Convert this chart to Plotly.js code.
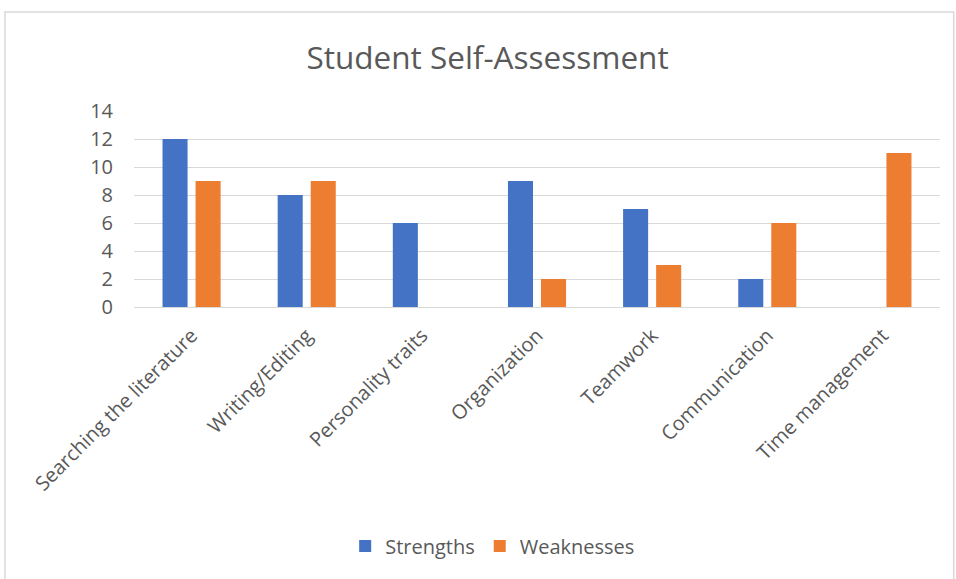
<!DOCTYPE html>
<html><head><meta charset="utf-8">
<script src="https://cdn.plot.ly/plotly-3.0.1.min.js"></script>
<style>html,body{margin:0;padding:0;background:#fff}#c{width:956px;height:579px}</style>
</head><body><div id="c"></div>
<script>
const categories = ["Searching the literature","Writing/Editing","Personality traits","Organization","Teamwork","Communication","Time management"];
const strengths = [12, 8, 6, 9, 7, 2, 0];
const weaknesses = [9, 9, 0, 2, 3, 6, 11];
const yTicks = [0, 2, 4, 6, 8, 10, 12, 14];

const fontFam = "'Open Sans', 'Noto Sans', sans-serif";
const data = [
  {type:'bar', name:'Strengths', x:categories, y:strengths, marker:{color:'#4472C4'}},
  {type:'bar', name:'Weaknesses', x:categories, y:weaknesses, marker:{color:'#ED7D31'}}
];
const layout = {
  width:956, height:579,
  margin:{l:134, r:16, t:111, b:272},
  paper_bgcolor:'#fff', plot_bgcolor:'#fff',
  font:{family:fontFam, color:'#595959', size:20},
  title:{text:'Student Self-Assessment', x:0.51, xref:'container', xanchor:'center', y:0.9, yref:'container', yanchor:'middle', font:{size:31.5, color:'#595959', family:fontFam}},
  barmode:'group', bargap:0.426, bargroupgap:0.242,
  xaxis:{tickangle:-45, showgrid:false, showline:true, linecolor:'#d9d9d9', linewidth:1, ticks:'', ticklabelstandoff:8, tickfont:{size:20, color:'#595959', family:fontFam}},
  yaxis:{range:[0,14], tickvals:yTicks, showgrid:true, gridcolor:'#d9d9d9', gridwidth:1, zeroline:false, showline:false, ticks:'', ticklabelstandoff:20, tickfont:{size:20, color:'#595959', family:fontFam}},
  legend:{orientation:'h', x:0.445, xanchor:'center', y:-1.22, yanchor:'middle', itemwidth:30, font:{size:20, color:'#595959', family:fontFam}},
  shapes:[{type:'rect', xref:'paper', yref:'paper', x0:-0.160, x1:1.017, y0:-1.6, y1:1.505, line:{color:'#d9d9d9', width:1.5}, fillcolor:'rgba(0,0,0,0)', layer:'below'}]
};
Plotly.newPlot('c', data, layout, {displayModeBar:false, staticPlot:true});
</script></body></html>
